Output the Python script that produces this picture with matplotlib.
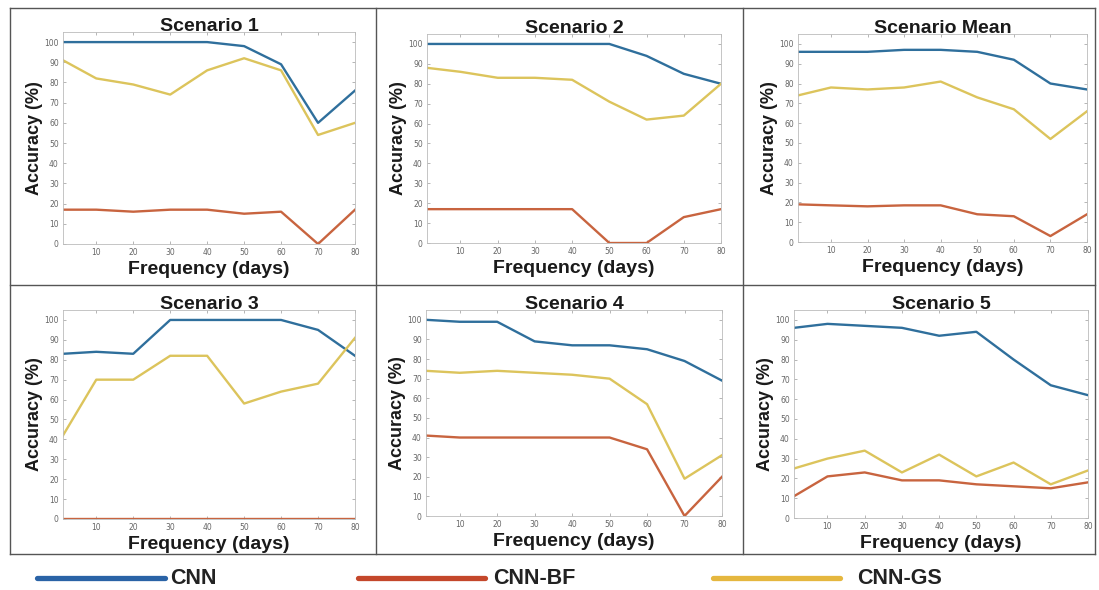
import matplotlib
matplotlib.use("Agg")
import matplotlib.pyplot as plt
from matplotlib.lines import Line2D

days = [1, 10, 20, 30, 40, 50, 60, 70, 80]
series_names = ["CNN", "CNN-BF", "CNN-GS"]
titles = ["Scenario 1", "Scenario 2", "Scenario Mean", "Scenario 3", "Scenario 4", "Scenario 5"]

cnn = [
    [100, 100, 100, 100, 100, 98, 89, 60, 76],
    [100, 100, 100, 100, 100, 100, 94, 85, 80],
    [96, 96, 96, 97, 97, 96, 92, 80, 77],
    [83, 84, 83, 100, 100, 100, 100, 95, 82],
    [100, 99, 99, 89, 87, 87, 85, 79, 69],
    [96, 98, 97, 96, 92, 94, 80, 67, 62],
]
cnn_bf = [
    [17, 17, 16, 17, 17, 15, 16, 0, 17],
    [17, 17, 17, 17, 17, 0, 0, 13, 17],
    [19, 18.5, 18, 18.5, 18.5, 14, 13, 3, 14],
    [0, 0, 0, 0, 0, 0, 0, 0, 0],
    [41, 40, 40, 40, 40, 40, 34, 0, 20],
    [11, 21, 23, 19, 19, 17, 16, 15, 18],
]
cnn_gs = [
    [91, 82, 79, 74, 86, 92, 86, 54, 60],
    [88, 86, 83, 83, 82, 71, 62, 64, 80],
    [74, 78, 77, 78, 81, 73, 67, 52, 66],
    [42, 70, 70, 82, 82, 58, 64, 68, 91],
    [74, 73, 74, 73, 72, 70, 57, 19, 31],
    [25, 30, 34, 23, 32, 21, 28, 17, 24],
]

line_colors = ["#2f6f9c", "#c8643f", "#dcc45c"]
legend_colors = ["#2a63a6", "#c4472b", "#e5b73f"]

W, H = 1099, 590
fig = plt.figure(figsize=(W / 100, H / 100), dpi=100)
FAM = ["Liberation Sans", "DejaVu Sans"]

# axes boxes in pixel coords: left, top, right, bottom
boxes = [
    (63, 32, 355, 244),
    (427, 34, 721, 243),
    (798, 34, 1087, 242),
    (63, 310, 355, 519),
    (426, 310, 722, 516),
    (794, 310, 1088, 518),
]

def px(l, t, r, b):
    return [l / W, 1 - b / H, (r - l) / W, (b - t) / H]

for i, (l, t, r, b) in enumerate(boxes):
    ax = fig.add_axes(px(l, t, r, b))
    for vals, c in zip([cnn[i], cnn_bf[i], cnn_gs[i]], line_colors):
        ax.plot(days, vals, color=c, lw=1.7, solid_joinstyle="round")
    ax.set_xlim(1, 80)
    ax.set_ylim(0, 105)
    ax.set_xticks(range(10, 81, 10))
    ax.set_yticks(range(0, 101, 10))
    ax.tick_params(direction="in", length=2, width=0.5, labelsize=5.5, colors="#999999",
                   labelcolor="#666666", top=True, right=True, pad=3)
    for s in ax.spines.values():
        s.set_color("#bbbbbb")
        s.set_linewidth(0.6)
    ax.set_title(titles[i], fontsize=14, fontweight="bold", pad=1, family=FAM, color="#1a1a1a")
    ax.set_xlabel("Frequency (days)", fontsize=14, fontweight="bold", labelpad=2.5,
                  family=FAM, color="#1a1a1a")
    ax.set_ylabel("Accuracy (%)", fontsize=13, fontweight="bold", labelpad=1,
                  family=FAM, color="#1a1a1a")

# panel frame lines
frame_color = "#555555"
def fline(x0, y0, x1, y1, lw=1.0):
    fig.add_artist(Line2D([x0 / W, x1 / W], [1 - y0 / H, 1 - y1 / H],
                          color=frame_color, lw=lw, transform=fig.transFigure))

fline(10, 8, 1095, 8)
fline(10, 285, 1095, 285)
fline(10, 554, 1095, 554)
fline(10, 8, 10, 554)
fline(376, 8, 376, 554)
fline(743, 8, 743, 554)
fline(1095, 8, 1095, 554)

# legend
leg_x = [(37, 165, 170), (358, 485, 493), (713, 840, 857)]
ly = 578
for (x0, x1, xt), c, name in zip(leg_x, legend_colors, series_names):
    fig.add_artist(Line2D([x0 / W, x1 / W], [1 - ly / H, 1 - ly / H], color=c, lw=3.8,
                          transform=fig.transFigure, solid_capstyle="round"))
    fig.text(xt / W, 1 - ly / H, name, fontsize=15.5, fontweight="bold", va="center", ha="left",
             family=FAM, color="#222222")

fig.savefig("out.png", dpi=100)
